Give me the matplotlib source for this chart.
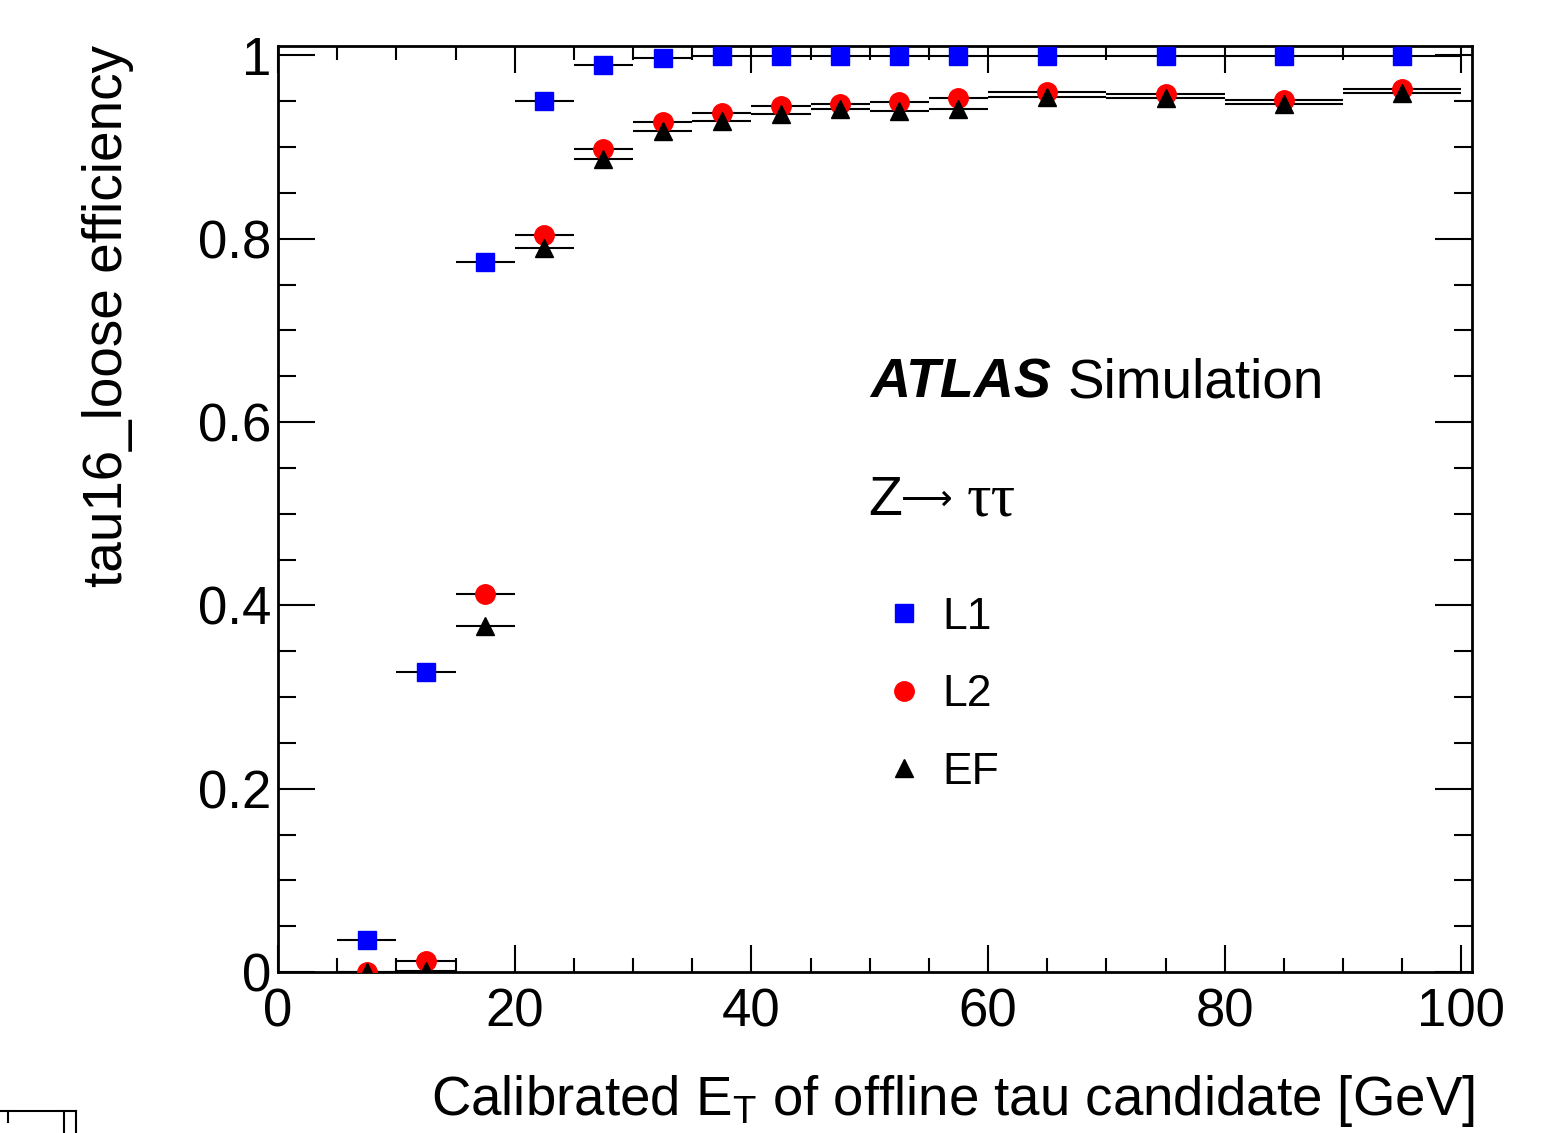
import matplotlib
matplotlib.use("Agg")
import matplotlib.pyplot as plt
import numpy as np
from matplotlib.ticker import MultipleLocator, FuncFormatter
from matplotlib.lines import Line2D

plt.rcParams['font.family'] = ['Liberation Sans', 'DejaVu Sans']
plt.rcParams['mathtext.default'] = 'regular'

# ---- data ----
bin_edges = [5, 10, 15, 20, 25, 30, 35, 40, 45, 50, 55, 60, 70, 80, 90, 100]
eff_L1 = [0.035, 0.327, 0.775, 0.950, 0.989, 0.997, 0.999, 0.999, 0.999, 0.999, 0.999, 0.999, 0.999, 0.999, 0.999]
eff_L2 = [0.000, 0.012, 0.412, 0.804, 0.898, 0.927, 0.937, 0.945, 0.947, 0.949, 0.954, 0.960, 0.958, 0.951, 0.963]
eff_EF = [0.000, 0.001, 0.378, 0.790, 0.887, 0.918, 0.928, 0.936, 0.941, 0.939, 0.942, 0.955, 0.954, 0.947, 0.959]
series_labels = ["L1", "L2", "EF"]
x_ticks = [0, 20, 40, 60, 80, 100]
y_ticks = [0, 0.2, 0.4, 0.6, 0.8, 1.0]

edges = np.array(bin_edges, dtype=float)
centers = 0.5 * (edges[:-1] + edges[1:])
halfw = 0.5 * (edges[1:] - edges[:-1])

W, H = 1545, 1133
fig = plt.figure(figsize=(W / 100, H / 100), dpi=100)
ax = fig.add_axes([278 / W, 1 - 972 / H, (1472 - 278) / W, (972 - 46) / H])

styles = [
    dict(marker='s', color='#0000ff', ms=13.5),
    dict(marker='o', color='#ff0000', ms=14),
    dict(marker='^', color='black', ms=13.5),
]
handles = []
for vals, st, lab in zip([eff_L1, eff_L2, eff_EF], styles, series_labels):
    ax.errorbar(centers, vals, xerr=halfw, fmt='none', ecolor='black',
                elinewidth=1.5, capsize=0, zorder=2)
    ax.plot(centers, vals, linestyle='none', marker=st['marker'],
            color=st['color'], ms=st['ms'], mec=st['color'], zorder=3)
    handles.append(Line2D([], [], linestyle='none', marker=st['marker'],
                          color=st['color'], ms=st['ms'], label=lab))

ax.set_xlim(0, 100.9)
ax.set_ylim(0, 1.0102)
ax.set_xticks(x_ticks)
ax.set_yticks(y_ticks)
ax.xaxis.set_minor_locator(MultipleLocator(5))
ax.yaxis.set_minor_locator(MultipleLocator(0.05))
fmt = FuncFormatter(lambda v, p: '%g' % v)
ax.xaxis.set_major_formatter(fmt)
ax.yaxis.set_major_formatter(fmt)

ax.tick_params(which='both', direction='in', top=True, right=True, width=1.5, labelsize=38)
ax.tick_params(axis='x', which='major', length=19.5, pad=11)
ax.tick_params(axis='x', which='minor', length=10)
ax.tick_params(axis='y', which='major', length=26.5, pad=5)
ax.tick_params(axis='y', which='minor', length=13)
for s in ax.spines.values():
    s.set_linewidth(2)

# axis titles
fig.text(1475 / W, 1 - 1115 / H, r"Calibrated E$_{T}$ of offline tau candidate [GeV]",
         ha='right', va='baseline', fontsize=39.3)
fig.text(108 / W, 1 - 45 / H, "tau16_loose efficiency", rotation=90,
         ha='center', va='top', fontsize=39.5)

# ATLAS label
fig.text(870 / W, 1 - 398 / H, "ATLAS", fontsize=40, fontweight='bold',
         fontstyle='italic', ha='left', va='baseline')
fig.text(1068 / W, 1 - 398 / H, "Simulation", fontsize=39.5, ha='left', va='baseline')
fig.text(868 / W, 1 - 515 / H, "Z", fontsize=40, ha='left', va='baseline')
fig.text(901 / W, 1 - 510 / H, "\u27f6", fontsize=26, ha='left', va='baseline',
         family=['DejaVu Sans'])
fig.text(967 / W, 1 - 515 / H, "\u03c4\u03c4", fontsize=44, ha='left', va='baseline',
         family=['Liberation Serif', 'DejaVu Serif'])

ax.legend(handles=handles, loc='upper left', bbox_to_anchor=(882 / W, 1 - 597 / H),
          bbox_transform=fig.transFigure, frameon=False, fontsize=32,
          handlelength=1.0, handletextpad=0.35, labelspacing=0.82,
          borderpad=0, borderaxespad=0)

# stray frame fragment at bottom-left corner
for xs, ys in [([0, 76], [1111, 1111]), ([64, 64], [1111, 1133]),
               ([76, 76], [1111, 1133]), ([8, 8], [1111, 1122])]:
    fig.add_artist(Line2D([x / W for x in xs], [1 - y / H for y in ys],
                          color='black', lw=1.5, transform=fig.transFigure))

fig.savefig("out.png", dpi=100)
